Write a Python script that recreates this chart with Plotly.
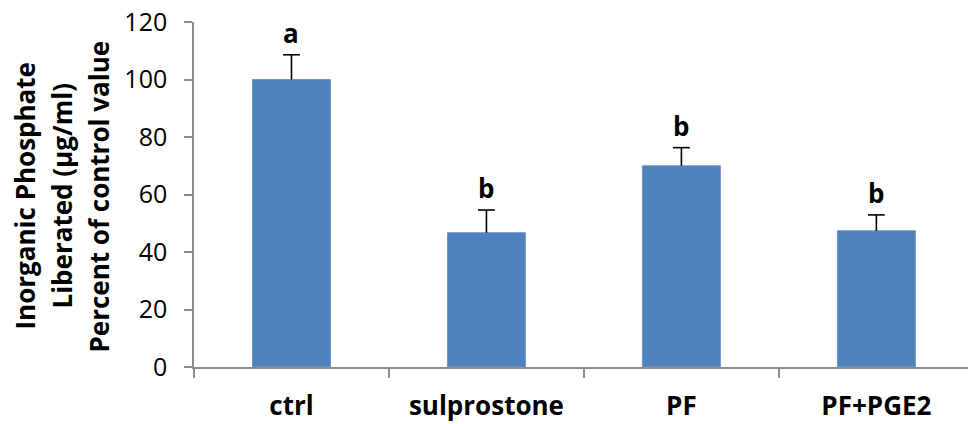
import plotly.graph_objects as go

categories = ["ctrl", "sulprostone", "PF", "PF+PGE2"]
values = [100.0, 46.7, 70.0, 47.4]
errors = [8.6, 7.9, 6.3, 5.5]
letters = ["a", "b", "b", "b"]
y_ticks = [0, 20, 40, 60, 80, 100, 120]
title_lines = ["Inorganic Phosphate", "Liberated (µg/ml)", "Percent of control value"]

FONT = "Open Sans"
AXIS_GREY = "#8c8c8c"

fig = go.Figure()
fig.add_trace(go.Bar(
    x=categories,
    y=values,
    width=0.4,
    marker=dict(color="#4F81BD", line=dict(color="#7096c8", width=1)),
    showlegend=False,
    hoverinfo="x+y",
))

# upper-only error bars: stem from bar top to mean + error, cap at the top
stem_x, stem_y = [], []
for cat, v, e in zip(categories, values, errors):
    stem_x += [cat, cat, None]
    stem_y += [v, v + e, None]
fig.add_trace(go.Scatter(
    x=stem_x, y=stem_y, mode="lines",
    line=dict(color="black", width=1.6),
    showlegend=False, hoverinfo="skip",
))
fig.add_trace(go.Scatter(
    x=categories, y=[v + e for v, e in zip(values, errors)], mode="markers",
    marker=dict(symbol="line-ew", size=12, line=dict(color="black", width=1.6)),
    showlegend=False, hoverinfo="skip",
))

# significance letters above each error bar
for cat, v, e, t in zip(categories, values, errors, letters):
    fig.add_annotation(x=cat, y=v + e, text=t, showarrow=False,
                       yanchor="bottom", yshift=2,
                       font=dict(family=FONT, size=26, color="black", weight="bold"))

# three-line y-axis title
for i, line in enumerate(title_lines):
    fig.add_annotation(xref="paper", yref="paper", x=0, y=0.5,
                       xanchor="center", yanchor="middle",
                       xshift=-170 + 37 * i, yshift=-2,
                       text=line, textangle=-90, showarrow=False,
                       font=dict(family=FONT, size=26, color="black", weight="bold"))

fig.update_layout(
    width=968, height=424,
    margin=dict(l=194, r=0, t=22, b=57),
    paper_bgcolor="white", plot_bgcolor="white",
    xaxis=dict(
        type="category", range=[-0.5, 3.47],
        tickson="boundaries", ticks="outside", ticklen=9, tickcolor=AXIS_GREY, tickwidth=1.5,
        showline=True, linecolor=AXIS_GREY, linewidth=1.5,
        showgrid=False, ticklabelstandoff=15,
        tickfont=dict(family=FONT, size=26, color="black", weight="bold"),
    ),
    yaxis=dict(
        range=[0, 120], tickvals=y_ticks,
        ticks="outside", ticklen=8, tickcolor=AXIS_GREY, tickwidth=1.5,
        showline=True, linecolor=AXIS_GREY, linewidth=1.5,
        showgrid=False, zeroline=False, ticklabelstandoff=12,
        tickfont=dict(family=FONT, size=25, color="black"),
    ),
)

fig.write_html("out.html")
